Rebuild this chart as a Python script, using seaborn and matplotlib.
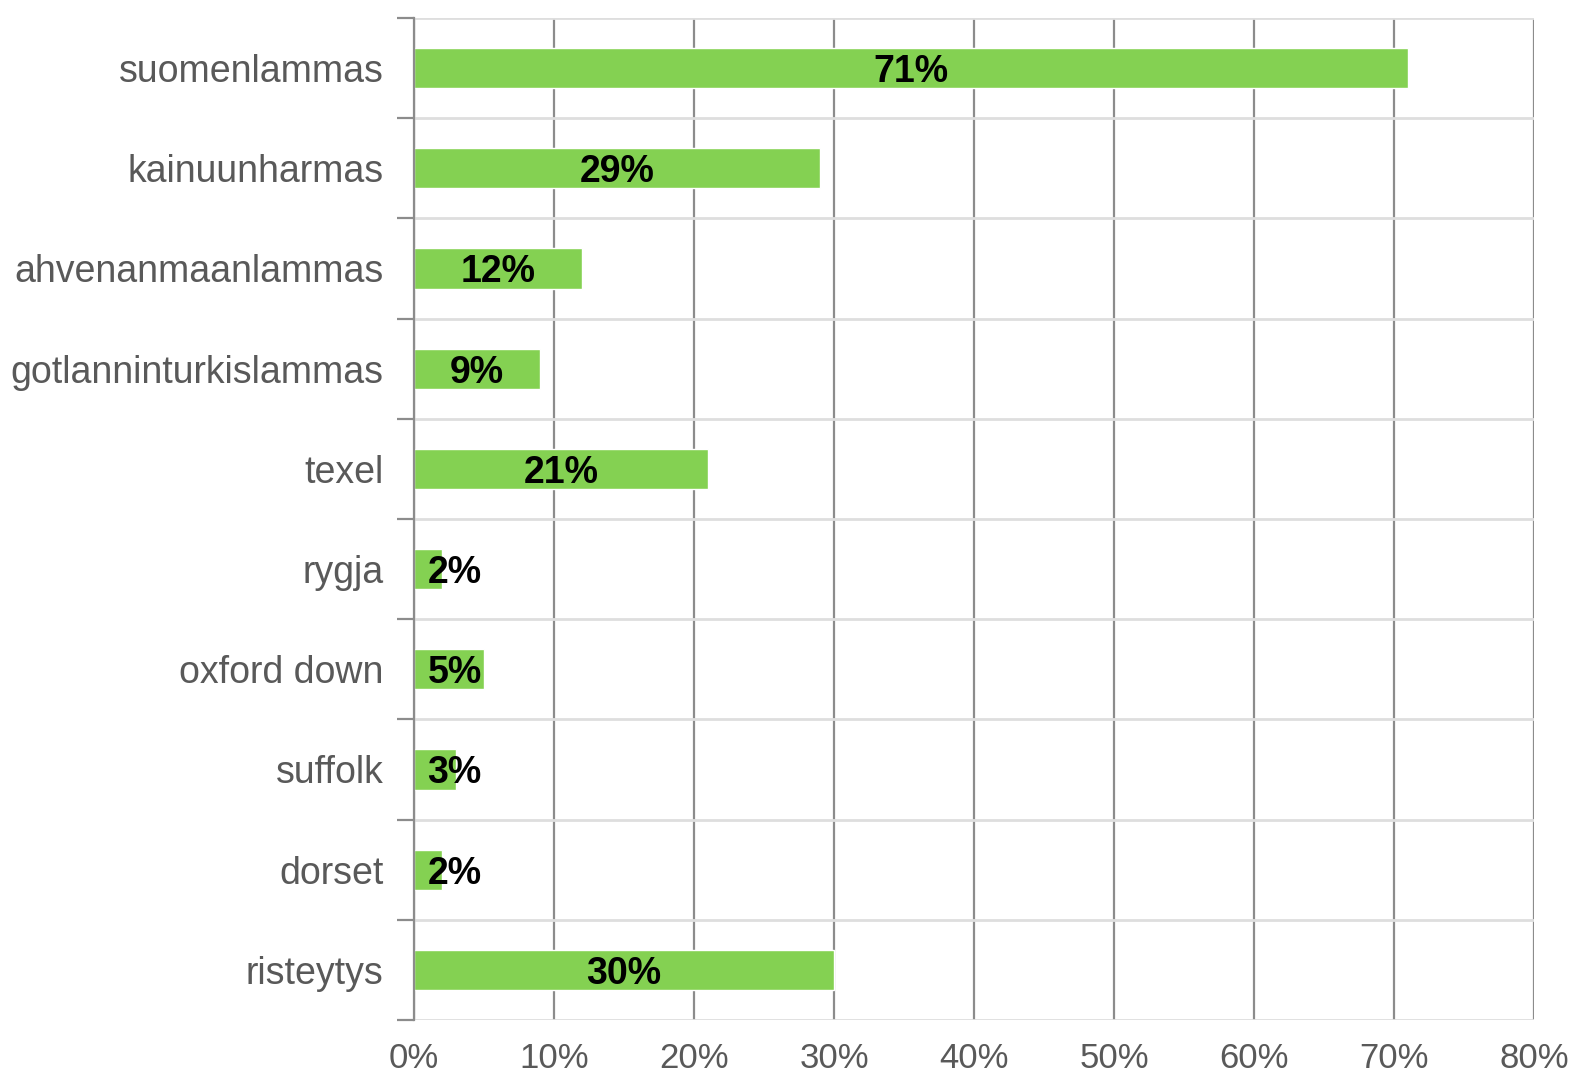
import matplotlib
matplotlib.use("Agg")
import matplotlib.pyplot as plt
from matplotlib.ticker import FixedLocator, PercentFormatter
import pandas as pd
import seaborn as sns

breeds = ["suomenlammas", "kainuunharmas", "ahvenanmaanlammas", "gotlanninturkislammas",
          "texel", "rygja", "oxford down", "suffolk", "dorset", "risteytys"]
shares = [71, 29, 12, 9, 21, 2, 5, 3, 2, 30]

df = pd.DataFrame({"breed": breeds, "share": shares})

sns.set_style("white")
plt.rcParams["font.family"] = ["Liberation Sans", "DejaVu Sans"]

fig, ax = plt.subplots(figsize=(15.7, 10.74), dpi=100)
fig.subplots_adjust(left=414/1570, right=1534/1570, top=1-18/1074, bottom=1-1020/1074)

sns.barplot(data=df, x="share", y="breed", orient="h", color="#84d152",
            width=0.4, saturation=1, ax=ax, zorder=3)

ax.set_xlim(0, 80)
ax.set_ylim(len(breeds) - 0.5, -0.5)
ax.set_xticks(range(0, 81, 10))
ax.xaxis.set_major_formatter(PercentFormatter(decimals=0))
ax.set_xlabel("")
ax.set_ylabel("")

# separators between categories
ax.yaxis.set_minor_locator(FixedLocator([i - 0.5 for i in range(len(breeds) + 1)]))
ax.grid(axis="y", which="minor", color="#dedede", linewidth=2, zorder=1)
ax.grid(axis="x", which="major", color="#8c8c8c", linewidth=1.6, zorder=2)
ax.tick_params(axis="y", which="major", length=0, pad=22, labelsize=27, labelcolor="#595959")
ax.tick_params(axis="y", which="minor", length=12, width=1.6, color="#8c8c8c", left=True)
ax.tick_params(axis="x", length=0, pad=16, labelsize=25, labelcolor="#595959")

for s in ["top", "right", "bottom"]:
    ax.spines[s].set_visible(False)
ax.spines["left"].set_color("#8c8c8c")
ax.spines["left"].set_linewidth(1.6)
ax.spines["left"].set_zorder(4)

for i, v in enumerate(shares):
    ax.text(max(v / 2, 2.9), i, f"{v}%", ha="center", va="center_baseline",
            fontsize=27, fontweight="bold", color="black", zorder=5)

plt.savefig("out.png", dpi=100)
plt.close()
